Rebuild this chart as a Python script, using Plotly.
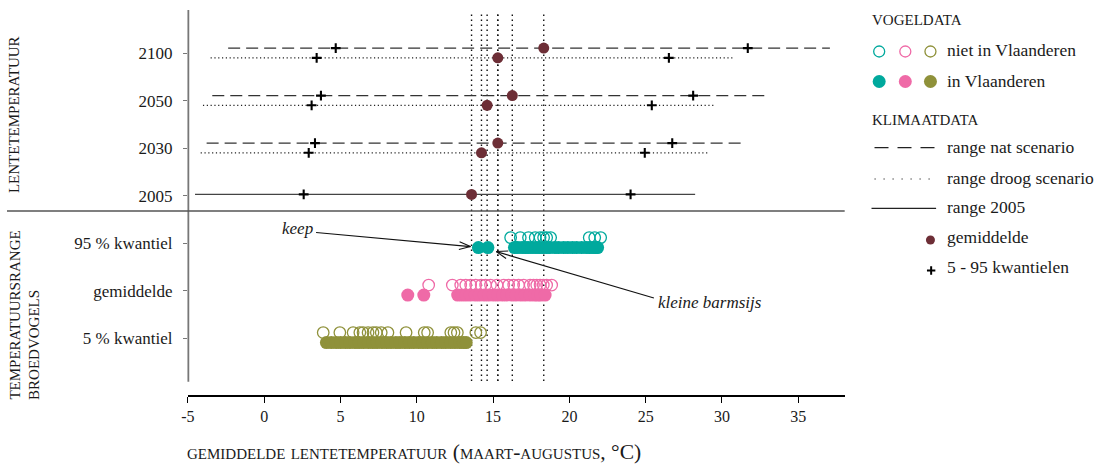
import math
import plotly.graph_objects as go

W, H = 1112, 464
FONT = "Liberation Serif"
INK = "#1a1a1a"
TEAL = "#00a99d"
PINK = "#ef6aa7"
OLIVE = "#8f913a"
MAROON = "#6d2e36"

# ---------------- data ----------------
row_labels = ["5 % kwantiel", "gemiddelde", "95 % kwantiel", "2005", "2030", "2050", "2100"]
row_pos = [1, 2, 3, 4, 5, 6, 7]

# climate scenarios (rows 2030, 2050, 2100)
scen_rows = [5, 6, 7]
nat_min = [-3.77, -3.40, -2.36]
nat_q5 = [3.33, 3.72, 4.69]
nat_mean = [15.31, 16.26, 18.32]
nat_q95 = [26.74, 28.11, 31.69]
nat_max = [31.43, 33.06, 37.07]

droog_min = [-4.16, -4.01, -3.51]
droog_q5 = [2.92, 3.11, 3.44]
droog_mean = [14.24, 14.61, 15.31]
droog_q95 = [24.94, 25.40, 26.52]
droog_max = [29.11, 29.58, 30.78]

# reference period 2005 (row 4): min, q5, mean, q95, max
ref2005 = [-4.53, 2.59, 13.59, 24.01, 28.24]

# bird species temperature ranges
q95_niet = [16.15, 16.78, 17.32, 17.76, 18.08, 18.31, 18.51, 18.77, 21.30, 21.66, 22.05]
q95_in = [14.04, 14.66, 16.40, 16.62, 16.90, 17.12, 17.30, 17.55, 17.80, 18.02, 18.25, 18.50,
          18.72, 19.05, 19.30, 19.62, 19.90, 20.20, 20.48, 20.80, 21.10, 21.32, 21.55, 21.72, 21.85]
gem_niet = [10.78, 12.33, 12.88, 13.21, 13.53, 13.86, 14.22, 14.51, 14.83, 15.26, 15.70, 16.02,
            16.35, 16.67, 17.00, 17.43, 17.65, 17.86, 18.08, 18.29, 18.51, 18.84]
gem_in = [9.41, 10.46, 12.68, 12.95, 13.22, 13.50, 13.83, 14.10, 14.42, 14.70, 15.02, 15.30,
          15.62, 15.90, 16.22, 16.50, 16.82, 17.10, 17.42, 17.70, 17.92, 18.12, 18.41]
q5_niet = [3.87, 4.96, 5.83, 6.27, 6.48, 6.81, 7.13, 7.35, 7.67, 8.11, 9.30, 10.49, 10.71,
           12.23, 12.44, 12.66, 13.87, 14.18]
q5_in = [4.08, 4.40, 4.72, 5.01, 5.33, 5.62, 5.95, 6.22, 6.51, 6.83, 7.12, 7.40, 7.72, 8.02,
         8.31, 8.63, 8.90, 9.22, 9.51, 9.80, 10.12, 10.41, 10.70, 11.02, 11.30, 11.62, 11.90,
         12.21, 12.50, 12.80, 13.05, 13.24]

xticks = [-5, 0, 5, 10, 15, 20, 25, 30, 35]

# ---------------- geometry ----------------
X0PX, X1PX = 182, 843
YTOP, YBOT = 10, 395
XR = (-5, 38.04)
YR = (-0.194, 7.912)
NAT_OFF, DROOG_OFF = 0.11, -0.095
NIET_OFF, IN_OFF = 0.12, -0.09


def xpx(x):
    return X0PX + (x - XR[0]) / (XR[1] - XR[0]) * (X1PX - X0PX)


def ypx(y):
    return YBOT - (y - YR[0]) / (YR[1] - YR[0]) * (YBOT - YTOP)


def pp(xp, yp):
    return xp / W, 1 - yp / H


fig = go.Figure()

# vertical dotted lines through the means
all_means = [ref2005[2]] + droog_mean + nat_mean
shapes = []
for m in all_means:
    shapes.append(dict(type="line", xref="x", yref="y domain", x0=m, x1=m,
                       y0=(YBOT - 381) / (YBOT - YTOP), y1=(YBOT - 12) / (YBOT - YTOP),
                       line=dict(color="#111", width=1.4, dash="1.5px,3.5px"), layer="below"))

# climate lines
for i, r in enumerate(scen_rows):
    fig.add_trace(go.Scatter(x=[nat_min[i], nat_max[i]], y=[r + NAT_OFF] * 2, mode="lines",
                             line=dict(color="#333", width=1.3, dash="12px,6px"), hoverinfo="skip"))
    fig.add_trace(go.Scatter(x=[droog_min[i], droog_max[i]], y=[r + DROOG_OFF] * 2, mode="lines",
                             line=dict(color="#222", width=1.2, dash="1.2px,2.6px"), hoverinfo="skip"))
fig.add_trace(go.Scatter(x=[ref2005[0], ref2005[4]], y=[4.03, 4.03], mode="lines",
                         line=dict(color="#444", width=1.3), hoverinfo="skip"))

# quantile crosses
cx = nat_q5 + nat_q95 + droog_q5 + droog_q95 + [ref2005[1], ref2005[3]]
cy = ([r + NAT_OFF for r in scen_rows] * 2 + [r + DROOG_OFF for r in scen_rows] * 2 + [4.03, 4.03])
fig.add_trace(go.Scatter(x=cx, y=cy, mode="markers",
                         marker=dict(symbol="cross-thin", size=7, line=dict(color="#000", width=2.1)),
                         hoverinfo="skip"))
# means
mx = nat_mean + droog_mean + [ref2005[2]]
my = [r + NAT_OFF for r in scen_rows] + [r + DROOG_OFF for r in scen_rows] + [4.03]
fig.add_trace(go.Scatter(x=mx, y=my, mode="markers",
                         marker=dict(symbol="circle", size=11, color=MAROON), hoverinfo="skip"))

# bird data
for xs, row, col in [(q95_niet, 3, TEAL), (gem_niet, 2, PINK), (q5_niet, 1, OLIVE)]:
    fig.add_trace(go.Scatter(x=xs, y=[row + NIET_OFF] * len(xs), mode="markers",
                             marker=dict(symbol="circle-open", size=11.5, color=col, line=dict(width=1.3)),
                             hoverinfo="skip"))
for xs, row, col in [(q95_in, 3, TEAL), (gem_in, 2, PINK), (q5_in, 1, OLIVE)]:
    fig.add_trace(go.Scatter(x=xs, y=[row + IN_OFF] * len(xs), mode="markers",
                             marker=dict(symbol="circle", size=13, color=col), hoverinfo="skip"))

# ---------------- legend (own pixel axes) ----------------
LX = 850
leg = dict(xaxis="x2", yaxis="y2", hoverinfo="skip")
fig.add_trace(go.Scatter(x=[877.7, 904, 929.3], y=[51.5] * 3, mode="markers",
                         marker=dict(symbol="circle-open", size=11, color=[TEAL, PINK, OLIVE],
                                     line=dict(width=1.3)), **leg))
fig.add_trace(go.Scatter(x=[877.7, 904, 929.3], y=[81.5] * 3, mode="markers",
                         marker=dict(symbol="circle", size=13, color=[TEAL, PINK, OLIVE]), **leg))
fig.add_trace(go.Scatter(x=[873, 934], y=[147.7] * 2, mode="lines",
                         line=dict(color="#222", width=1.2, dash="14px,9px"), **leg))
fig.add_trace(go.Scatter(x=[873, 934], y=[179] * 2, mode="lines",
                         line=dict(color="#222", width=1.2, dash="1.2px,7.8px"), **leg))
fig.add_trace(go.Scatter(x=[870, 935], y=[208.3] * 2, mode="lines",
                         line=dict(color="#222", width=1.3), **leg))
fig.add_trace(go.Scatter(x=[929.3], y=[240], mode="markers",
                         marker=dict(symbol="circle", size=9, color=MAROON), **leg))
fig.add_trace(go.Scatter(x=[930], y=[270.5], mode="markers",
                         marker=dict(symbol="cross-thin", size=6, line=dict(color="#000", width=2)), **leg))

annotations = []
hdr = dict(family=FONT, size=21.5, color=INK, variant="small-caps")
txt = dict(family=FONT, size=17.5, color=INK)
for label, y in [("vogeldata", 18.3), ("klimaatdata", 118.3)]:
    annotations.append(dict(xref="x2", yref="y2", x=868, y=y, text=label, showarrow=False,
                            xanchor="left", yanchor="middle", font=hdr))
for label, y in [("niet in Vlaanderen", 50), ("in Vlaanderen", 80.5), ("range nat scenario", 146.5),
                 ("range droog scenario", 177.5), ("range 2005", 207.3), ("gemiddelde", 237.3),
                 ("5 - 95 kwantielen", 266.7)]:
    annotations.append(dict(xref="x2", yref="y2", x=944, y=y, text=label, showarrow=False,
                            xanchor="left", yanchor="middle", font=txt))

# axis titles
annotations.append(dict(xref="paper", yref="paper", x=179 / W, y=1 - 452 / H,
                        text="gemiddelde lentetemperatuur (maart-augustus, °C)", showarrow=False,
                        xanchor="left", yanchor="middle", font=hdr))
annotations.append(dict(xref="paper", yref="paper", x=-9 / W, y=1 - 115 / H, text="lentetemperatuur",
                        textangle=-90, showarrow=False, xanchor="left", yanchor="middle", font=hdr))
annotations.append(dict(xref="paper", yref="paper", x=-9 / W, y=1 - 402 / H,
                        text="temperatuursrange", textangle=-90,
                        showarrow=False, xanchor="left", yanchor="bottom", font=hdr))
annotations.append(dict(xref="paper", yref="paper", x=11 / W, y=1 - 402 / H,
                        text="broedvogels", textangle=-90,
                        showarrow=False, xanchor="left", yanchor="bottom", font=hdr))

# species labels
ital = dict(family=FONT, size=17, color=INK, style="italic")
annotations.append(dict(xref="paper", yref="paper", x=292 / W, y=1 - 228 / H, text="keep",
                        showarrow=False, xanchor="center", yanchor="middle", font=ital))
annotations.append(dict(xref="paper", yref="paper", x=653 / W, y=1 - 302 / H, text="kleine barmsijs",
                        showarrow=False, xanchor="left", yanchor="middle", font=ital))


def arrow(tail, tip):
    out = []
    out.append(dict(type="line", xref="paper", yref="paper",
                    x0=pp(*tail)[0], y0=pp(*tail)[1], x1=pp(*tip)[0], y1=pp(*tip)[1],
                    line=dict(color="#111", width=1.2)))
    dx, dy = tail[0] - tip[0], tail[1] - tip[1]
    L = math.hypot(dx, dy)
    ux, uy = dx / L, dy / L
    for a in (0.33, -0.33):
        hx = tip[0] + 12 * (ux * math.cos(a) - uy * math.sin(a))
        hy = tip[1] + 12 * (ux * math.sin(a) + uy * math.cos(a))
        out.append(dict(type="line", xref="paper", yref="paper",
                        x0=pp(*tip)[0], y0=pp(*tip)[1], x1=pp(hx, hy)[0], y1=pp(hx, hy)[1],
                        line=dict(color="#111", width=1.1)))
    return out


shapes += arrow((311, 232.5), (xpx(q95_in[0]) - 8, ypx(3 + IN_OFF) - 1))
shapes += arrow((651, 298), (xpx(q95_in[1]) + 8.5, ypx(3 + IN_OFF) + 4))

# axis line (left) and divider
shapes.append(dict(type="line", xref="paper", yref="paper", x0=182.5 / W, x1=182.5 / W,
                   y0=1 - 381.7 / H, y1=1 - 10 / H, line=dict(color="#777", width=1.8)))
shapes.append(dict(type="line", xref="paper", yref="paper", x0=0, x1=843 / W,
                   y0=1 - 211 / H, y1=1 - 211 / H, line=dict(color="#555", width=1.5)))

fig.update_layout(
    width=W, height=H, autosize=False,
    margin=dict(l=0, r=0, t=0, b=0),
    paper_bgcolor="white", plot_bgcolor="white",
    showlegend=False,
    font=dict(family=FONT, color=INK),
    xaxis=dict(domain=[X0PX / W, X1PX / W], range=list(XR), tickvals=xticks,
               ticktext=[str(t) for t in xticks], ticks="outside", ticklen=6, tickcolor="#000",
               showline=True, linecolor="#000", linewidth=1.5, showgrid=False, zeroline=False,
               tickfont=dict(family=FONT, size=16, color=INK), anchor="y", fixedrange=True),
    yaxis=dict(domain=[1 - YBOT / H, 1 - YTOP / H], range=list(YR), tickvals=row_pos,
               ticktext=row_labels, ticks="outside", ticklen=4, tickcolor="#777", tickwidth=1.3,
               ticklabelstandoff=7,
               showline=False, showgrid=False, zeroline=False,
               tickfont=dict(family=FONT, size=17, color=INK), anchor="x", fixedrange=True),
    xaxis2=dict(domain=[LX / W, 1], range=[LX, W], visible=False, anchor="y2", fixedrange=True),
    yaxis2=dict(domain=[0, 1], range=[H, 0], visible=False, anchor="x2", fixedrange=True),
    shapes=shapes,
    annotations=annotations,
)

fig.write_html("out.html")
